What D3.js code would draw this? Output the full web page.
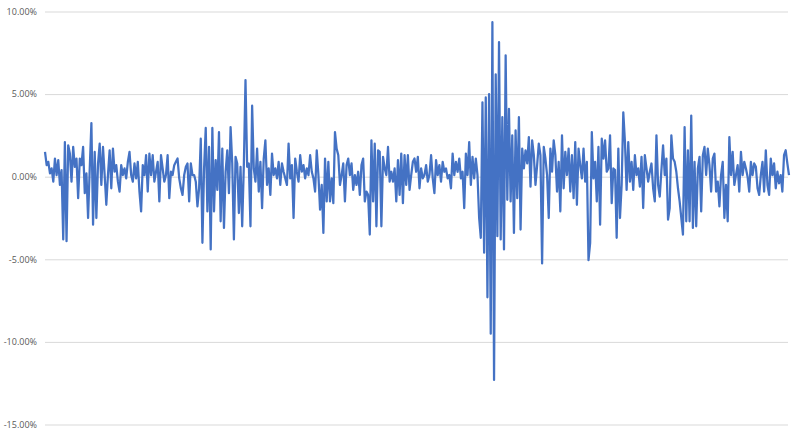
<!DOCTYPE html>
<html>
<head>
<meta charset="utf-8">
<script src="https://cdn.jsdelivr.net/npm/d3@7/dist/d3.min.js"></script>
<style>
  html, body { margin: 0; padding: 0; background: #ffffff; }
  svg { display: block; }
</style>
</head>
<body>
<svg id="chart" width="800" height="436"></svg>
<script>
// Daily returns (%), left to right, in segments
const seg1 = [
  1.5, 0.7, 0.9, 0.2, 0.5, -0.3, 1.1, 0.1, 1.0, -0.5,
  0.4, -3.8, 2.1, -3.9, 1.9, 1.4, -0.3, 1.8, 0.6, 1.1,
  -1.3, 1.1, 0.7, 1.8, -1.0, 0.2, -2.5, 0.5, 3.25, -2.9,
  1.5, -2.5, 0.8, 2.0, -0.5, 1.8, 0.1, -1.7, 0.1, 1.6,
  -0.7, 1.7, 0.3, 0.7, -0.3, -0.9, 0.7, 0.1, 0.5, -0.1,
  0.9, 1.5, 0.1, -0.3, 0.8, -0.1, 0.9, -0.9, -2.1, 0.7,
  0.1, 1.3, -0.9, 1.4, 0.1, 1.3, -0.3, 0.3, 0.9, -1.5,
  1.3, 0.5, -0.3, 0.1, 1.3, -1.3, 0.3, 0.1, 0.7, 0.9,
  1.1, -0.1, -0.7, -1.1, 0.1, 0.6, 0.8, -1.5, 0.8, 0.1
];
const seg2 = [
  0.1, -0.3, -1.8, -0.7, 2.3, -4.0, 0.5, 2.95, -2.1, 1.8,
  -4.4, 2.95, -2.1, 1.0, -0.8, 2.7, -2.7, 1.7, -3.1, 0.3,
  1.6, -1.0, 3.0, 0.8, -3.8, 1.2, 0.8, -2.2, 0.6, -3.0,
  0.7, 5.85, 0.6, 0.8, -3.0, 4.3,
  0.5, -0.3, 1.7, -0.9, 0.9, -1.9, 1.1, 2.2, -0.5, 0.5,
  -1.1, 1.4, 0.1, 0.5, -0.1, 0.9, -0.5, 0.8, 0.3, -0.1,
  -0.5, 2.0, -0.1, 0.7, -2.5, 1.1, 0.3, -0.3, 1.3, 0.3,
  0.7, -0.1, 0.5, 0.1, 1.3, 0.3, -0.1, -0.9, 1.6, 0.1,
  -2.0, -0.5, -3.4, 1.1, -1.5, 0.9, -1.5, -0.1, -1.6, 2.7,
  1.7, 1.3, -0.5, 0.1
];
const seg3 = [
  0.8, -1.5, 0.7, 1.1, 0.1, 0.8, -0.8, 0.1, -0.5, 0.3,
  -1.1, 0.7, 1.1, -1.5, -0.9, -1.1, -3.5, 2.2, -1.5, 2.0,
  -3.0, 1.6, 1.5, -3.0, 1.2, 0.5, 0.1, 1.8, -0.3, 0.3,
  -0.3, 0.5, -1.5, 1.0, -1.1, 1.4, -1.6, 1.3, -0.5, 1.3,
  -0.8, 0.1, 0.9, 1.1, 0.3, 1.2, -0.7, 0.5, -0.1, 0.1,
  0.7, -0.3, 0.1, 1.3, -0.1, -1.0, 1.0, 0.1, 0.7, -0.3,
  0.9, 0.3, 0.5, -0.1, 0.1, -0.7, 1.4, 0.1, 0.9, 0.3,
  1.1, -0.1, 0.3, -1.9, 1.4, 0.1, 2.1, -0.5, 1.2, -0.1,
  1.1, 0.1, -2.5
];
const crash = [
  -3.7, 4.5, -4.6, 4.8, -7.3, 5.0, -9.5, 9.35, -12.3, 6.2,
  -3.6, 8.15, -3.8, 3.6, -4.4, 7.35
];
const seg4 = [
  -1.4, 4.1, -1.5, 2.5, -3.4, 2.8, -1.3, 3.6, -3.2, 1.7,
  0.5, 1.6, 0.8, 2.4, -0.6, 2.2, 1.3, -0.5,
  0.7, 2.0, 1.3, -5.25,
  1.8, 1.1, 0.1, -2.5, 1.7, 0.3, 2.2, 1.3, -0.9, 0.9,
  -2.1, 2.5, -0.7, 1.5, 0.1, 1.7, -0.9, 1.3, -1.3, 2.1,
  -1.7, 1.7, 0.7, -0.1, 1.7, -0.3, 0.9, -5.05,
  -4.0, 2.7, -0.1, 0.9, -1.5, 1.8, -2.9, 2.3, 1.1, 2.2,
  0.3, 0.5, 2.5, -1.6, 0.5, 0.4, -3.7, 1.7, -2.5, -0.5,
  3.9, 2.1, -0.8, 2.1, -0.3, 0.9, -0.8, 1.3, 0.1,
  0.5, -0.6, 1.2
];
const seg5 = [
  -1.9, 1.3, 0.5, -0.3, 0.3, 0.8, -0.7, -1.5, 2.5, -0.5,
  -1.2, 0.4, 1.9, 0.1, 1.1, -2.6, -1.9, 2.5, 1.1, 0.9,
  0.3, -0.7, -1.5, -2.5, -3.5, 3.0, -2.7, 1.6, -2.7, 3.7,
  -3.1, 0.9, -3.0, 0.5, 1.2, -2.1, 1.3, 1.8, 0.1, 1.7,
  0.7, -0.9, 1.1, 1.4, -0.9, -0.3, -1.8, 0.1, 0.9, -2.5,
  -0.5, -2.7, 2.4, 0.1, 1.5, -0.5, 0.1, 0.7, -0.9, 1.5,
  0.1, 0.9, 0.5, 0.0, -0.9, 0.9, 0.1, 0.8, 0.6, -0.7,
  -1.1, 0.1, 0.9, -0.9, 1.6, -0.5, -1.1, 1.1, 0.1, 0.8,
  -0.7, 0.3, -0.4, 0.1, -0.9, 1.3, 1.6, 0.8, 0.1
];
const returns = [].concat(seg1, seg2, seg3, crash, seg4, seg5);
const yTicks = [-15, -10, -5, 0, 5, 10];

const svg = d3.select("#chart");
const padL = 45, padR = 788, padT = 11.5, padB = 424.5;

const x = d3.scaleLinear().domain([0, returns.length - 1]).range([padL, padR + 1]);
const y = d3.scaleLinear().domain([-15, 10]).range([padB, padT]);

const axis = d3.axisLeft(y)
  .tickValues(yTicks)
  .tickSize(-(padR - padL))
  .tickPadding(8)
  .tickFormat(d => d.toFixed(2) + "%");

const g = svg.append("g")
  .attr("transform", `translate(${padL},0)`)
  .call(axis);
g.select(".domain").remove();
g.selectAll(".tick line").attr("stroke", "#d9d9d9").attr("stroke-width", 1);
g.selectAll(".tick text")
  .attr("fill", "#595959")
  .style("font-family", "'Open Sans', 'Liberation Sans', sans-serif")
  .style("font-size", "9px");

const line = d3.line()
  .x((d, i) => x(i))
  .y(d => y(d));

svg.append("path")
  .datum(returns)
  .attr("fill", "none")
  .attr("stroke", "#4472c4")
  .attr("stroke-width", 2.25)
  .attr("stroke-linejoin", "round")
  .attr("d", line);
</script>
</body>
</html>
